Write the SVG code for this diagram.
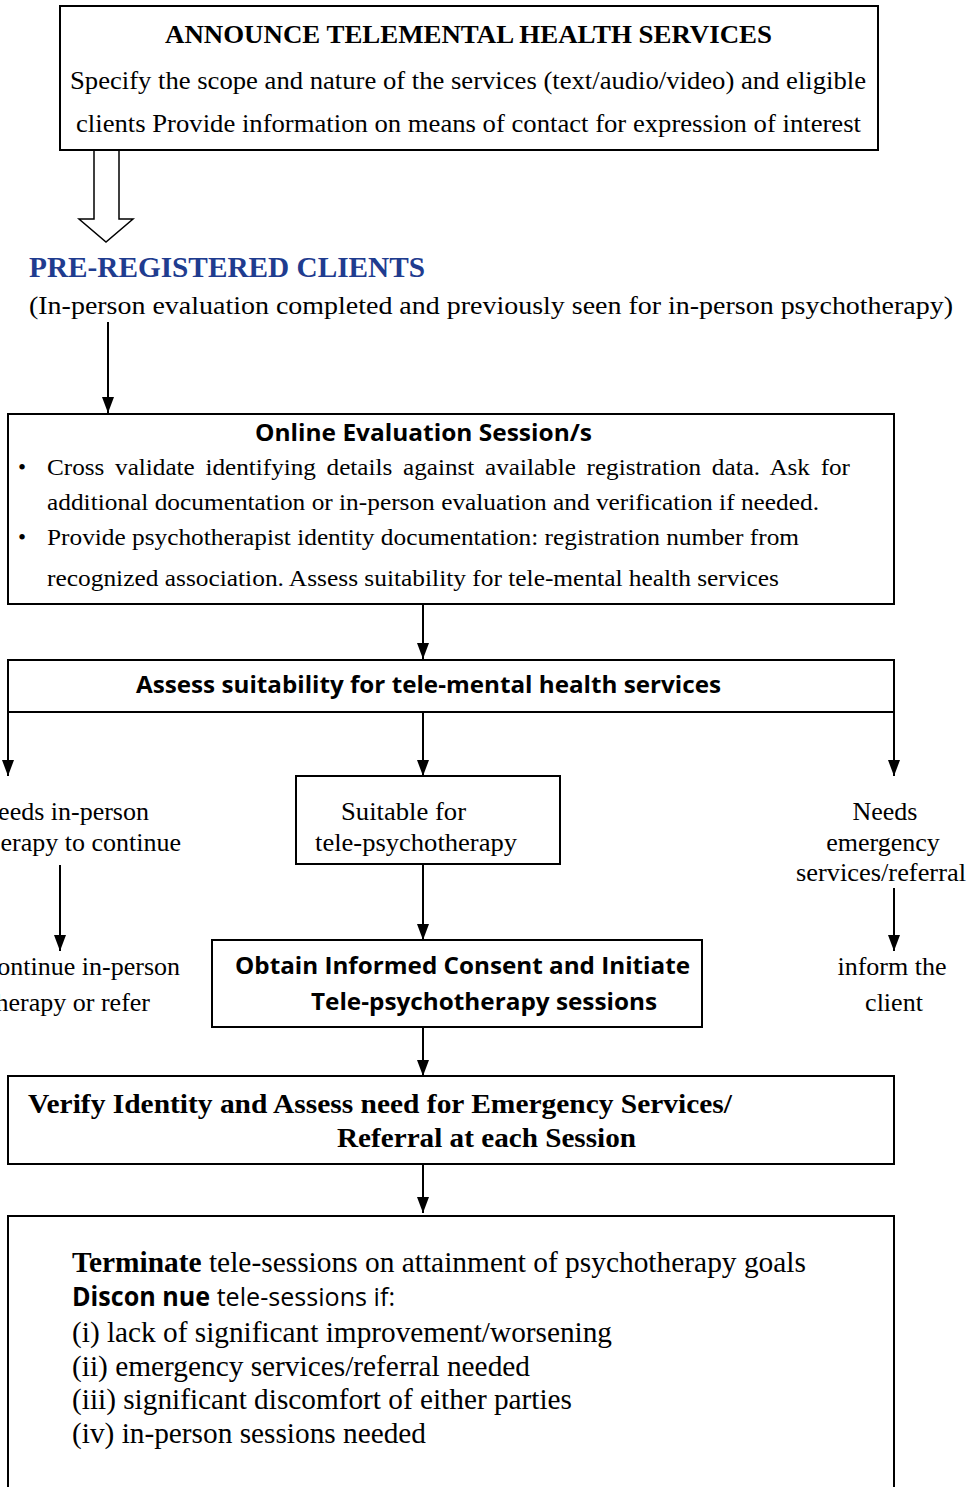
<svg xmlns="http://www.w3.org/2000/svg" width="972" height="1487" viewBox="0 0 972 1487">
<defs>
<marker id="arr" markerWidth="16" markerHeight="12" refX="16" refY="6" orient="auto" markerUnits="userSpaceOnUse" viewBox="0 0 16 12">
<path d="M0,0 L16,6 L0,12 Z" fill="#000"/>
</marker>
<style>
.box{fill:#fff;stroke:#000;stroke-width:2}
.ser{font-family:"Liberation Serif","Times New Roman",serif;fill:#000}
.sb{font-family:"Open Sans","Liberation Sans",sans-serif;font-weight:bold;fill:#000}
.sn{font-family:"Open Sans","Liberation Sans",sans-serif;fill:#000}
.con{stroke:#000;stroke-width:2;fill:none;marker-end:url(#arr)}
</style>
</defs>
<rect width="972" height="1487" fill="#fff"/>

<g id="connectors">
<path d="M94,151 L94,219 L79,219 L106,242 L133,219 L119,219 L119,151" fill="#fff" stroke="#000" stroke-width="1.5"/>
<line class="con" x1="108" y1="322" x2="108" y2="413"/>
<line class="con" x1="423" y1="605" x2="423" y2="659"/>
<line class="con" x1="8" y1="712" x2="8" y2="776"/>
<line class="con" x1="423" y1="712" x2="423" y2="776"/>
<line class="con" x1="894" y1="712" x2="894" y2="776"/>
<line class="con" x1="60" y1="865" x2="60" y2="951"/>
<line class="con" x1="423" y1="864" x2="423" y2="940"/>
<line class="con" x1="894" y1="888" x2="894" y2="951"/>
<line class="con" x1="423" y1="1028" x2="423" y2="1076"/>
<line class="con" x1="423" y1="1165" x2="423" y2="1213"/>
</g>

<g id="announce">
<rect class="box" x="60" y="6" width="818" height="144"/>
<text class="ser" x="165" y="43" font-size="25" font-weight="bold" textLength="607" lengthAdjust="spacingAndGlyphs">ANNOUNCE TELEMENTAL HEALTH SERVICES</text>
<text class="ser" x="70" y="89" font-size="25" textLength="796" lengthAdjust="spacingAndGlyphs">Specify the scope and nature of the services (text/audio/video) and eligible</text>
<text class="ser" x="76" y="132" font-size="25" textLength="785" lengthAdjust="spacingAndGlyphs">clients Provide information on means of contact for expression of interest</text>
</g>

<g id="preregistered">
<text class="ser" x="29" y="277" font-size="29.5" font-weight="bold" style="fill:#1f3c8f" textLength="396" lengthAdjust="spacingAndGlyphs">PRE-REGISTERED CLIENTS</text>
<text class="ser" x="29" y="314" font-size="25" textLength="924" lengthAdjust="spacingAndGlyphs">(In-person evaluation completed and previously seen for in-person psychotherapy)</text>
</g>

<g id="online-eval">
<rect class="box" x="8" y="414" width="886" height="190"/>
<text class="sb" x="255" y="441" font-size="23" textLength="337" lengthAdjust="spacingAndGlyphs">Online Evaluation Session/s</text>
<text class="ser" x="18" y="475" font-size="23">•</text>
<text class="ser" x="47" y="475" font-size="23" word-spacing="4" textLength="803" lengthAdjust="spacingAndGlyphs">Cross validate identifying details against available registration data. Ask for</text>
<text class="ser" x="47" y="510" font-size="23" textLength="772" lengthAdjust="spacingAndGlyphs">additional documentation or in-person evaluation and verification if needed.</text>
<text class="ser" x="18" y="545" font-size="23">•</text>
<text class="ser" x="47" y="545" font-size="23" textLength="752" lengthAdjust="spacingAndGlyphs">Provide psychotherapist identity documentation: registration number from</text>
<text class="ser" x="47" y="586" font-size="23" textLength="732" lengthAdjust="spacingAndGlyphs">recognized association. Assess suitability for tele-mental health services</text>
</g>

<g id="assess">
<rect class="box" x="8" y="660" width="886" height="52"/>
<text class="sb" x="136" y="693" font-size="23" textLength="585" lengthAdjust="spacingAndGlyphs">Assess suitability for tele-mental health services</text>
</g>

<g id="needs-in-person">
<text class="ser" x="149" y="820" font-size="26" text-anchor="end">eeds in-person</text>
<text class="ser" x="181" y="851" font-size="26" text-anchor="end">erapy to continue</text>
</g>

<g id="suitable">
<rect class="box" x="296" y="776" width="264" height="88"/>
<text class="ser" x="341" y="820" font-size="26" textLength="125" lengthAdjust="spacingAndGlyphs">Suitable for</text>
<text class="ser" x="315" y="851" font-size="26" textLength="202" lengthAdjust="spacingAndGlyphs">tele-psychotherapy</text>
</g>

<g id="needs-emergency">
<text class="ser" x="885" y="820" font-size="26" text-anchor="middle">Needs</text>
<text class="ser" x="883" y="851" font-size="26" text-anchor="middle">emergency</text>
<text class="ser" x="881" y="881" font-size="26" text-anchor="middle" textLength="170" lengthAdjust="spacingAndGlyphs">services/referral</text>
</g>

<g id="continue-in-person">
<text class="ser" x="180" y="975" font-size="26" text-anchor="end">ontinue in-person</text>
<text class="ser" x="150" y="1011" font-size="26" text-anchor="end">herapy or refer</text>
</g>

<g id="consent">
<rect class="box" x="212" y="940" width="490" height="87"/>
<text class="sb" x="235" y="974" font-size="24" textLength="455" lengthAdjust="spacingAndGlyphs">Obtain Informed Consent and Initiate</text>
<text class="sb" x="311" y="1010" font-size="24" textLength="346" lengthAdjust="spacingAndGlyphs">Tele-psychotherapy sessions</text>
</g>

<g id="inform">
<text class="ser" x="892" y="975" font-size="26" text-anchor="middle">inform the</text>
<text class="ser" x="894" y="1011" font-size="26" text-anchor="middle">client</text>
</g>

<g id="verify">
<rect class="box" x="8" y="1076" width="886" height="88"/>
<text class="ser" x="28" y="1113" font-size="28" font-weight="bold" textLength="704" lengthAdjust="spacingAndGlyphs">Verify Identity and Assess need for Emergency Services/</text>
<text class="ser" x="337" y="1147" font-size="28" font-weight="bold" textLength="299" lengthAdjust="spacingAndGlyphs">Referral at each Session</text>
</g>

<g id="terminate">
<rect class="box" x="8" y="1216" width="886" height="290"/>
<text class="ser" x="72" y="1272" font-size="29" textLength="734" lengthAdjust="spacingAndGlyphs"><tspan font-weight="bold">Terminate</tspan> tele-sessions on attainment of psychotherapy goals</text>
<text class="sn" x="72" y="1306" font-size="26" textLength="323" lengthAdjust="spacingAndGlyphs"><tspan font-weight="bold">Discon nue</tspan> tele-sessions if:</text>
<text class="ser" x="72" y="1342" font-size="29" textLength="540" lengthAdjust="spacingAndGlyphs">(i) lack of significant improvement/worsening</text>
<text class="ser" x="72" y="1376" font-size="29" textLength="458" lengthAdjust="spacingAndGlyphs">(ii) emergency services/referral needed</text>
<text class="ser" x="72" y="1409" font-size="29" textLength="500" lengthAdjust="spacingAndGlyphs">(iii) significant discomfort of either parties</text>
<text class="ser" x="72" y="1443" font-size="29" textLength="354" lengthAdjust="spacingAndGlyphs">(iv) in-person sessions needed</text>
</g>
</svg>
